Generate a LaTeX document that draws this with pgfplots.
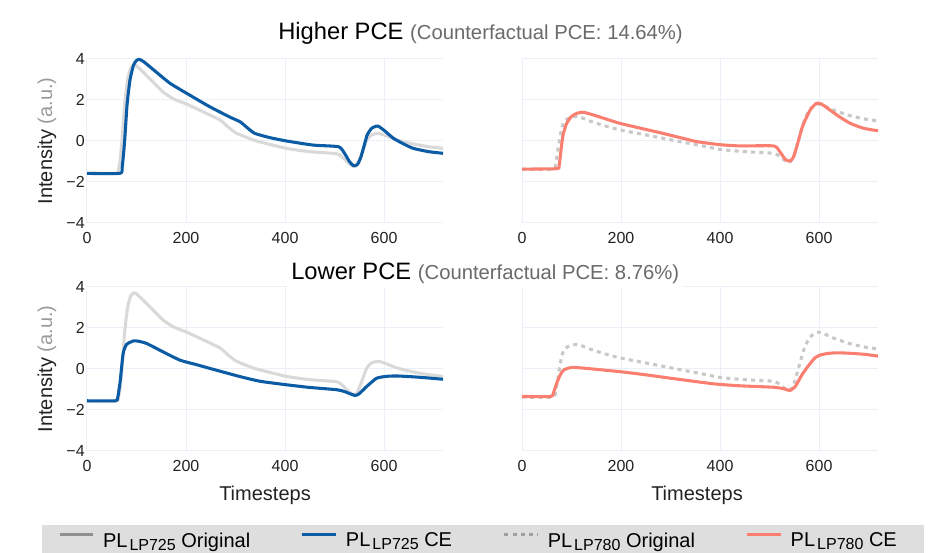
\documentclass[border=0pt]{standalone}
\usepackage{pgfplots}
\usepackage{pgfplotstable}
\pgfplotsset{compat=1.18}
\usepackage{fontspec}
\setmainfont{Liberation Sans}
\definecolor{ceblue}{HTML}{0B5CA5}
\definecolor{cesalmon}{HTML}{FA7F70}
\definecolor{origgray}{HTML}{D9D9D9}
\definecolor{dotgray}{HTML}{C8C8C8}
\definecolor{gridc}{HTML}{EBF0F8}
\definecolor{leggray}{HTML}{8F8F8F}
\definecolor{legdot}{HTML}{A0A0A0}
\definecolor{legbg}{HTML}{DEDEDE}
\definecolor{subgray}{HTML}{6A6A6A}
\definecolor{labgray}{HTML}{9A9A9A}
\definecolor{tickc}{HTML}{222222}

% PL_LP725 original (same in both rows)
\pgfplotstableread{
t v
0 -1.58
58 -1.58
63 -1.45
67 -0.9
71 0.1
76 1.8
82 3.0
88 3.55
95 3.72
102 3.62
120 3.2
140 2.72
154 2.38
175 2.05
201 1.80
235 1.42
269 1.02
285 0.68
302 0.38
340 0.02
403 -0.36
450 -0.52
504 -0.62
515 -0.78
530 -1.12
538 -1.25
545 -1.18
555 -0.6
565 0.05
575 0.30
589 0.37
605 0.25
626 0.05
660 -0.15
690 -0.28
719 -0.36
}\origA
% PL_LP780 original (same in both rows)
\pgfplotstableread{
t v
0 -1.37
62 -1.37
68 -1.1
74 -0.2
80 0.6
86 0.98
98 1.15
114 1.19
140 0.95
170 0.72
198 0.54
260 0.25
319 -0.03
360 -0.22
400 -0.41
450 -0.52
508 -0.60
520 -0.75
538 -1.06
548 -0.8
558 0.0
568 0.86
580 1.5
595 1.80
610 1.72
629 1.51
660 1.25
690 1.08
719 0.98
}\origB
% higher PCE CE, LP725
\pgfplotstableread{
t v
0 -1.58
66 -1.58
71 -1.3
76 0.0
81 1.8
87 3.0
94 3.7
100 3.93
106 3.98
115 3.86
140 3.36
168 2.81
201 2.33
248 1.67
290 1.15
309 0.94
325 0.62
339 0.37
370 0.16
403 0.0
457 -0.2
508 -0.28
520 -0.6
530 -1.0
538 -1.2
546 -1.15
553 -0.8
560 -0.2
566 0.3
575 0.62
587 0.73
600 0.52
619 0.13
640 -0.15
659 -0.36
690 -0.52
719 -0.60
}\hiA
% higher PCE CE, LP780
\pgfplotstableread{
t v
0 -1.37
70 -1.35
75 -1.2
79 -0.4
83 0.3
90 0.85
100 1.2
112 1.36
124 1.40
140 1.30
170 1.07
198 0.86
240 0.62
285 0.37
320 0.16
353 -0.03
400 -0.18
440 -0.24
508 -0.24
520 -0.5
532 -0.9
541 -0.98
548 -0.8
557 -0.1
565 0.6
572 1.02
583 1.55
595 1.84
605 1.80
622 1.51
640 1.20
663 0.86
690 0.62
719 0.50
}\hiB
% lower PCE CE, LP725
\pgfplotstableread{
t v
0 -1.55
57 -1.55
62 -1.4
67 -0.6
73 0.76
80 1.2
94 1.37
105 1.35
121 1.24
150 0.88
188 0.43
220 0.22
248 0.03
309 -0.37
350 -0.60
403 -0.77
450 -0.90
504 -1.01
520 -1.10
541 -1.29
550 -1.20
565 -0.85
585 -0.45
605 -0.36
626 -0.34
670 -0.40
719 -0.50
}\loA
% lower PCE CE, LP780
\pgfplotstableread{
t v
0 -1.34
58 -1.34
63 -1.2
70 -0.7
77 -0.3
84 -0.05
95 0.05
104 0.08
130 0.03
198 -0.13
252 -0.29
300 -0.45
386 -0.72
440 -0.82
508 -0.89
530 -0.97
541 -1.05
552 -0.85
565 -0.3
575 0.05
582 0.27
592 0.55
602 0.68
618 0.76
636 0.79
660 0.77
690 0.72
719 0.63
}\loB

\pgfplotsset{
 panel/.style={
  scale only axis, width=267pt, height=123pt,
  xmin=0, xmax=719, ymin=-4, ymax=4,
  xtick={0,200,400,600}, ytick={-4,-2,0,2,4},
  xticklabels={0,200,400,600},
  grid=major, major grid style={draw=gridc, line width=0.75pt},
  axis line style={draw=none}, major tick length=0pt,
  tick label style={font=\fontsize{12}{14}\selectfont, text=tickc},
  xticklabel style={anchor=north, inner sep=0pt, yshift=-6.5pt},
  yticklabel style={anchor=east, inner sep=0pt, xshift=-1.5pt},
  clip=false,
  every axis plot/.append style={line width=2.3pt, line join=round, smooth, tension=0.35},
  label style={font=\fontsize{15}{18}\selectfont, text=tickc},
 },
 leftp/.style={panel, yticklabels={−4,−2,0,2,4},
  ylabel={Intensity \textcolor{labgray}{(a.u.)}},
  ylabel style={at={(axis description cs:-0.1124,0.5)}, anchor=center}},
 rightp/.style={panel, yticklabels={}},
}

\begin{document}
\begin{tikzpicture}
\useasboundingbox (0pt,0pt) rectangle (702pt,414.75pt);
\fill[legbg] (31.5pt,0pt) rectangle (693pt,21pt);

% top left
\begin{axis}[leftp, at={(65.25pt,247.5pt)}, anchor=south west]
\addplot[origgray] table[x=t,y=v] {\origA};
\addplot[ceblue] table[x=t,y=v] {\hiA};
\end{axis}
% top right
\begin{axis}[rightp, at={(391.5pt,247.5pt)}, anchor=south west]
\addplot[dotgray, dash pattern=on 3pt off 3.2pt] table[x=t,y=v] {\origB};
\addplot[cesalmon] table[x=t,y=v] {\hiB};
\end{axis}
% bottom left
\begin{axis}[leftp, at={(65.25pt,76.5pt)}, anchor=south west,
  xlabel={Timesteps},
  xlabel style={at={(axis description cs:0.5,-0.268)}, anchor=center},
  legend columns=4,
  legend style={at={(-0.0815,-0.548)}, anchor=west, draw=none, fill=none,
    inner sep=0pt, outer sep=0pt,
    nodes={inner sep=0pt, font=\fontsize{15}{18}\selectfont, text=black},
    /tikz/every even column/.append style={column sep=38pt}},
  legend image code/.code={\draw[#1] (0pt,4.5pt) -- (25pt,4.5pt); \path (31.5pt,0pt);},
  legend cell align=left]
\addplot[origgray, forget plot] table[x=t,y=v] {\origA};
\addplot[ceblue, forget plot] table[x=t,y=v] {\loA};
\addlegendimage{leggray, line width=2.3pt}
\addlegendentry{PL\kern1.5pt\raisebox{-2.2pt}{\fontsize{12}{14}\selectfont LP725} Original}
\addlegendimage{ceblue, line width=2.3pt}
\addlegendentry{PL\kern1.5pt\raisebox{-2.2pt}{\fontsize{12}{14}\selectfont LP725} CE}
\addlegendimage{legdot, line width=2.3pt, dash pattern=on 3pt off 3.2pt}
\addlegendentry{PL\kern1.5pt\raisebox{-2.2pt}{\fontsize{12}{14}\selectfont LP780} Original}
\addlegendimage{cesalmon, line width=2.3pt}
\addlegendentry{PL\kern1.5pt\raisebox{-2.2pt}{\fontsize{12}{14}\selectfont LP780} CE}
\end{axis}
% bottom right
\begin{axis}[rightp, at={(391.5pt,76.5pt)}, anchor=south west,
  xlabel={Timesteps},
  xlabel style={at={(axis description cs:0.4916,-0.268)}, anchor=center}]
\addplot[dotgray, dash pattern=on 3pt off 3.2pt] table[x=t,y=v] {\origB};
\addplot[cesalmon] table[x=t,y=v] {\loB};
\end{axis}

\node[anchor=base west, inner sep=0pt] at (208.5pt,384.75pt)
  {\fontsize{17.8}{20}\selectfont Higher PCE \textcolor{subgray}{\fontsize{15.2}{18}\selectfont(Counterfactual PCE: 14.64\%)}};
\node[anchor=base west, inner sep=3pt, fill=white] at (215.25pt,204.75pt)
  {\fontsize{17.8}{20}\selectfont Lower PCE \textcolor{subgray}{\fontsize{15.2}{18}\selectfont(Counterfactual PCE: 8.76\%)}};
\end{tikzpicture}
\end{document}
